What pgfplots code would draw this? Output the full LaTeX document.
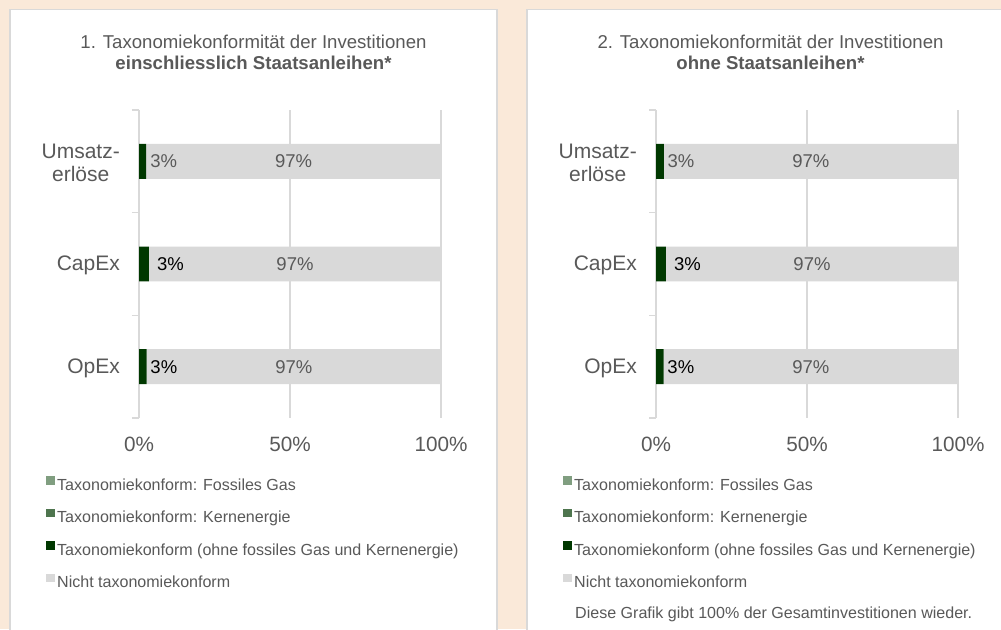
\documentclass[border=0pt]{standalone}
\usepackage{pgfplots}
\pgfplotsset{compat=1.18}
\usepackage{fontspec}
\setmainfont{Liberation Sans}
\definecolor{bg}{RGB}{250,233,217}
\definecolor{frame}{RGB}{217,217,217}
\definecolor{txt}{RGB}{89,89,89}
\definecolor{gas}{RGB}{128,158,128}
\definecolor{kern}{RGB}{78,117,78}
\definecolor{ohne}{RGB}{0,56,0}
\definecolor{nicht}{RGB}{217,217,217}
\protected\def\lg{\textcolor{txt}{3\%}}
\protected\def\lb{\textcolor{black}{3\%}}
\protected\def\lc{\hspace*{5.5pt}\textcolor{black}{3\%}}
\pgfplotsset{
  sqleg/.style={legend image code/.code={\fill[##1] (0pt,1.5pt) rectangle (8.5pt,10pt);}},
  panel/.style={
    xbar stacked, scale only axis, width=302pt, height=308pt, anchor=south west,
    xmin=0, xmax=100, ymin=-0.5, ymax=2.5, y dir=reverse,
    bar width=0.34,
    axis line style={draw=none},
    xtick={0,50,100}, xticklabels={0\%,50\%,100\%},
    ytick={0,1,2}, yticklabels={{Umsatz-\\erlöse},CapEx,OpEx},
    minor ytick={-0.5,0.5,1.5,2.5},
    major tick length=0pt, minor tick length=7pt,
    tick align=outside, ytick pos=left, xtick pos=bottom,
    minor tick style={frame, line width=1.3pt},
    xmajorgrids, ymajorgrids=false,
    major grid style={frame, line width=1.3pt},
    xticklabel style={inner sep=0pt, yshift=-19pt, text=txt, font=\fontsize{20.7}{24}\selectfont},
    yticklabel style={inner sep=0pt, xshift=-19pt, yshift=-1.5pt, align=center, text=txt, font=\fontsize{21}{23}\selectfont},
    every axis plot post/.append style={sqleg},
    legend cell align=left,
    legend style={at={(-0.308,-0.189)}, anchor=north west, draw=none, fill=none, inner sep=0pt,
      font=\fontsize{16.05}{19}\selectfont, text=txt, column sep=2.5pt, row sep=14.5pt,
      nodes={inner sep=0pt, text height=12pt, text depth=4pt}},
  },
  lblA/.style={point meta=explicit symbolic, nodes near coords={\pgfplotspointmeta},
    every node near coord/.append style={anchor=west, inner sep=0pt, xshift=7.5pt, font=\fontsize{18.5}{20}\selectfont}},
  lblB/.style={point meta=explicit symbolic, nodes near coords={\pgfplotspointmeta\%},
    every node near coord/.append style={anchor=center, inner sep=0pt, text=txt, font=\fontsize{18.5}{20}\selectfont}},
}
\begin{document}
\begin{tikzpicture}
\path[use as bounding box] (0,0) rectangle (1001pt,629pt);
\clip (0,0) rectangle (1001pt,629pt);
\fill[bg] (0,0) rectangle (1001pt,629pt);
\draw[frame, line width=1.5pt, fill=white] (10pt,-10pt) rectangle (497pt,619.5pt);
\draw[frame, line width=1.5pt, fill=white] (527pt,-10pt) rectangle (1015pt,619.5pt);
\node[align=center, text=txt, font=\fontsize{18.6}{21}\selectfont] at (253.5pt,576.5pt)
  {1. Taxonomiekonformität der Investitionen\\\textbf{einschliesslich Staatsanleihen*}};
\node[align=center, text=txt, font=\fontsize{18.6}{21}\selectfont] at (770.5pt,576.5pt)
  {2. Taxonomiekonformität der Investitionen\\\textbf{ohne Staatsanleihen*}};

\begin{axis}[panel, at={(139pt,211pt)}]
\addplot[fill=gas, draw=none] coordinates {(0,0) (0,1) (0,2)};
\addplot[fill=kern, draw=none] coordinates {(0,0) (0,1) (0,2)};
\addplot[fill=ohne, draw=none, lblA] coordinates {(2.4,0) [\lg] (3.3,1) [\lc] (2.5,2) [\lb]};
\addplot[fill=nicht, draw=none, lblB] coordinates {(97.6,0) [97] (96.7,1) [97] (97.5,2) [97]};
\legend{Taxonomiekonform: Fossiles Gas, Taxonomiekonform: Kernenergie,
  Taxonomiekonform (ohne fossiles Gas und Kernenergie), Nicht taxonomiekonform}
\end{axis}

\begin{axis}[panel, at={(656pt,211pt)}]
\addplot[fill=gas, draw=none] coordinates {(0,0) (0,1) (0,2)};
\addplot[fill=kern, draw=none] coordinates {(0,0) (0,1) (0,2)};
\addplot[fill=ohne, draw=none, lblA] coordinates {(2.6,0) [\lg] (3.3,1) [\lc] (2.5,2) [\lb]};
\addplot[fill=nicht, draw=none, lblB] coordinates {(97.4,0) [97] (96.7,1) [97] (97.5,2) [97]};
\legend{Taxonomiekonform: Fossiles Gas, Taxonomiekonform: Kernenergie,
  Taxonomiekonform (ohne fossiles Gas und Kernenergie), Nicht taxonomiekonform}
\end{axis}

\node[anchor=base west, inner sep=0pt, text=txt, font=\fontsize{16.05}{19}\selectfont] at (575pt,10pt)
  {Diese Grafik gibt 100\% der Gesamtinvestitionen wieder.};
\end{tikzpicture}
\end{document}
